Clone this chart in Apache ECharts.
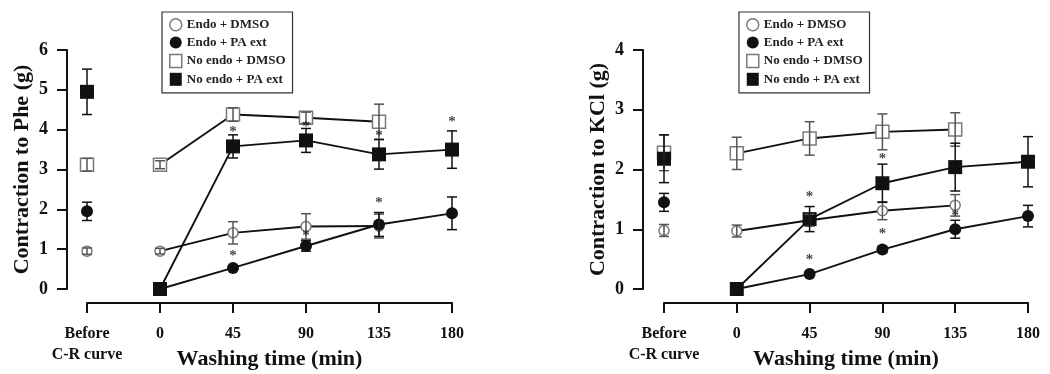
<!DOCTYPE html>
<html>
<head>
<meta charset="utf-8">
<script src="https://cdn.jsdelivr.net/npm/echarts@6/dist/echarts.min.js"></script>
<style>
  html, body { margin: 0; padding: 0; background: #fff; }
  #chart { width: 1050px; height: 374px; }
</style>
</head>
<body>
<div id="chart"></div>
<script>
// x positions: -45 stands for the "Before C-R curve" point
const timeTicks = [-45, 0, 45, 90, 135, 180];
const tickLabels = ['Before\nC-R curve', '0', '45', '90', '135', '180'];
const groupNames = ['Endo + DMSO', 'Endo + PA ext', 'No endo + DMSO', 'No endo + PA ext'];

// Contraction to Phe (g)
const pheEndoDmso = [0.95, 0.95, 1.41, 1.57, 1.58, null];
const pheEndoDmsoErr = [0.08, 0.07, 0.28, 0.32, 0.3, null];
const pheEndoPa = [1.95, 0, 0.53, 1.08, 1.62, 1.9];
const pheEndoPaErr = [0.23, 0, 0.05, 0.13, 0.3, 0.41];
const pheNoEndoDmso = [3.12, 3.12, 4.38, 4.3, 4.2, null];
const pheNoEndoDmsoErr = [0.16, 0.1, 0.17, 0.14, 0.44, null];
const pheNoEndoPa = [4.95, 0, 3.58, 3.73, 3.38, 3.5];
const pheNoEndoPaErr = [0.57, 0, 0.29, 0.3, 0.37, 0.47];
const pheStarX = [45, 45, 90, 90, 135, 135, 180];
const pheStarY = [4.04, 0.93, 4.17, 1.43, 3.94, 2.26, 4.29];

// Contraction to KCl (g)
const kclEndoDmso = [0.98, 0.97, 1.15, 1.31, 1.4, null];
const kclEndoDmsoErr = [0.1, 0.1, 0.1, 0.15, 0.18, null];
const kclEndoPa = [1.45, 0, 0.25, 0.66, 1.0, 1.22];
const kclEndoPaErr = [0.15, 0, 0.03, 0.05, 0.15, 0.18];
const kclNoEndoDmso = [2.28, 2.27, 2.52, 2.63, 2.67, null];
const kclNoEndoDmsoErr = [0.3, 0.27, 0.28, 0.3, 0.28, null];
const kclNoEndoPa = [2.18, 0, 1.17, 1.77, 2.04, 2.13];
const kclNoEndoPaErr = [0.4, 0, 0.21, 0.32, 0.4, 0.42];
const kclStarX = [45, 45, 90, 90, 135];
const kclStarY = [1.6, 0.55, 2.24, 0.99, 1.29];

const FONT = "'Liberation Serif', 'Times New Roman', serif";
const INK = '#111';
const GREY = '#7a7a7a';

const styles = [
  { symbol: 'circle', size: 10, item: { color: '#fff', borderColor: GREY, borderWidth: 1.5, opacity: 1 }, bar: '#555' },
  { symbol: 'circle', size: 12, item: { color: INK, opacity: 1 }, bar: INK },
  { symbol: 'rect', size: 13, item: { color: '#fff', borderColor: GREY, borderWidth: 1.5, opacity: 1 }, bar: '#555' },
  { symbol: 'rect', size: 14, item: { color: INK, opacity: 1 }, bar: INK }
];

function buildPanel(idx, groups, errs, starX, starY) {
  const series = [];
  groups.forEach((vals, g) => {
    const st = styles[g];
    // before point, not joined to the curve
    series.push({
      name: groupNames[g], type: 'scatter', xAxisIndex: idx, yAxisIndex: idx,
      symbol: st.symbol, symbolSize: st.size, itemStyle: st.item, z: 3 + g,
      data: [[timeTicks[0], vals[0]]]
    });
    const pts = [];
    for (let i = 1; i < timeTicks.length; i++) {
      if (vals[i] !== null) pts.push([timeTicks[i], vals[i]]);
    }
    series.push({
      name: groupNames[g], type: 'line', xAxisIndex: idx, yAxisIndex: idx,
      symbol: st.symbol, symbolSize: st.size, itemStyle: st.item, z: 3 + g,
      lineStyle: { color: INK, width: 1.9 },
      data: pts
    });
  });
  // error bars
  const errData = [];
  groups.forEach((vals, g) => {
    vals.forEach((v, i) => {
      if (v !== null && errs[g][i]) errData.push([timeTicks[i], v, errs[g][i], g]);
    });
  });
  series.push({
    type: 'custom', xAxisIndex: idx, yAxisIndex: idx, z: 10, silent: true,
    encode: { x: 0, y: 1 },
    data: errData,
    renderItem: function (params, api) {
      const x = api.value(0), y = api.value(1), e = api.value(2);
      const col = styles[api.value(3)].bar;
      const top = api.coord([x, y + e]);
      const bot = api.coord([x, y - e]);
      const w = 5;
      const s = { stroke: col, lineWidth: 1.5 };
      return {
        type: 'group',
        children: [
          { type: 'line', shape: { x1: top[0], y1: top[1], x2: bot[0], y2: bot[1] }, style: s },
          { type: 'line', shape: { x1: top[0] - w, y1: top[1], x2: top[0] + w, y2: top[1] }, style: s },
          { type: 'line', shape: { x1: bot[0] - w, y1: bot[1], x2: bot[0] + w, y2: bot[1] }, style: s }
        ]
      };
    }
  });
  // significance marks
  series.push({
    type: 'scatter', xAxisIndex: idx, yAxisIndex: idx, z: 12, silent: true,
    symbolSize: 1, itemStyle: { color: 'rgba(0,0,0,0)' },
    label: {
      show: true, position: 'inside', formatter: '*', offset: [0, 4],
      fontFamily: FONT, fontWeight: 'bold', fontSize: 15, color: INK
    },
    data: starX.map((x, i) => [x, starY[i]])
  });
  return series;
}

const chart = echarts.init(document.getElementById('chart'));

function xAxisCfg(gridIndex) {
  return {
    type: 'value', gridIndex: gridIndex, min: -45, max: 180, interval: 45, offset: 14,
    name: 'Washing time (min)', nameLocation: 'middle', nameGap: 45, nameMoveOverlap: false,
    nameTextStyle: { fontFamily: FONT, fontWeight: 'bold', fontSize: 22, color: INK },
    axisLine: { onZero: false, lineStyle: { color: INK, width: 2 } },
    axisTick: { length: 10, lineStyle: { color: INK, width: 2 } },
    axisLabel: {
      margin: 20, fontFamily: FONT, fontWeight: 'bold', fontSize: 16, lineHeight: 21, color: INK,
      formatter: v => tickLabels[timeTicks.indexOf(v)]
    },
    splitLine: { show: false }
  };
}

function yAxisCfg(gridIndex, max, name, offset) {
  return {
    type: 'value', gridIndex: gridIndex, min: 0, max: max, interval: 1, offset: offset,
    name: name, nameLocation: 'middle', nameGap: 34, nameMoveOverlap: false,
    nameTextStyle: { fontFamily: FONT, fontWeight: 'bold', fontSize: 22, color: INK },
    axisLine: { show: true, onZero: false, lineStyle: { color: INK, width: 2 } },
    axisTick: { show: true, length: 10, lineStyle: { color: INK, width: 2 } },
    axisLabel: { margin: 19, fontFamily: FONT, fontWeight: 'bold', fontSize: 18, color: INK },
    splitLine: { show: false }
  };
}

function legendCfg(left) {
  return {
    orient: 'vertical', left: left, top: 12,
    padding: [6, 7, 7, 7], itemGap: 4.6, itemWidth: 12, itemHeight: 13,
    borderColor: '#333', borderWidth: 1.2, backgroundColor: '#fff',
    textStyle: { fontFamily: FONT, fontWeight: 'bold', fontSize: 13, lineHeight: 13, color: '#222' },
    data: groupNames.map((n, g) => ({
      name: n, icon: styles[g].symbol, itemStyle: styles[g].item
    }))
  };
}

chart.setOption({
  backgroundColor: '#fff',
  animation: false,
  legend: [legendCfg(162), legendCfg(739)],
  grid: [
    { left: 87, width: 365, top: 50, height: 239, outerBoundsMode: 'none', containLabel: false },
    { left: 664, width: 364, top: 50, height: 239, outerBoundsMode: 'none', containLabel: false }
  ],
  xAxis: [xAxisCfg(0), xAxisCfg(1)],
  yAxis: [
    yAxisCfg(0, 6, 'Contraction to Phe (g)', 20),
    yAxisCfg(1, 4, 'Contraction to KCl (g)', 21)
  ],
  series: [].concat(
    buildPanel(0, [pheEndoDmso, pheEndoPa, pheNoEndoDmso, pheNoEndoPa],
      [pheEndoDmsoErr, pheEndoPaErr, pheNoEndoDmsoErr, pheNoEndoPaErr], pheStarX, pheStarY),
    buildPanel(1, [kclEndoDmso, kclEndoPa, kclNoEndoDmso, kclNoEndoPa],
      [kclEndoDmsoErr, kclEndoPaErr, kclNoEndoDmsoErr, kclNoEndoPaErr], kclStarX, kclStarY)
  )
});
</script>
</body>
</html>
